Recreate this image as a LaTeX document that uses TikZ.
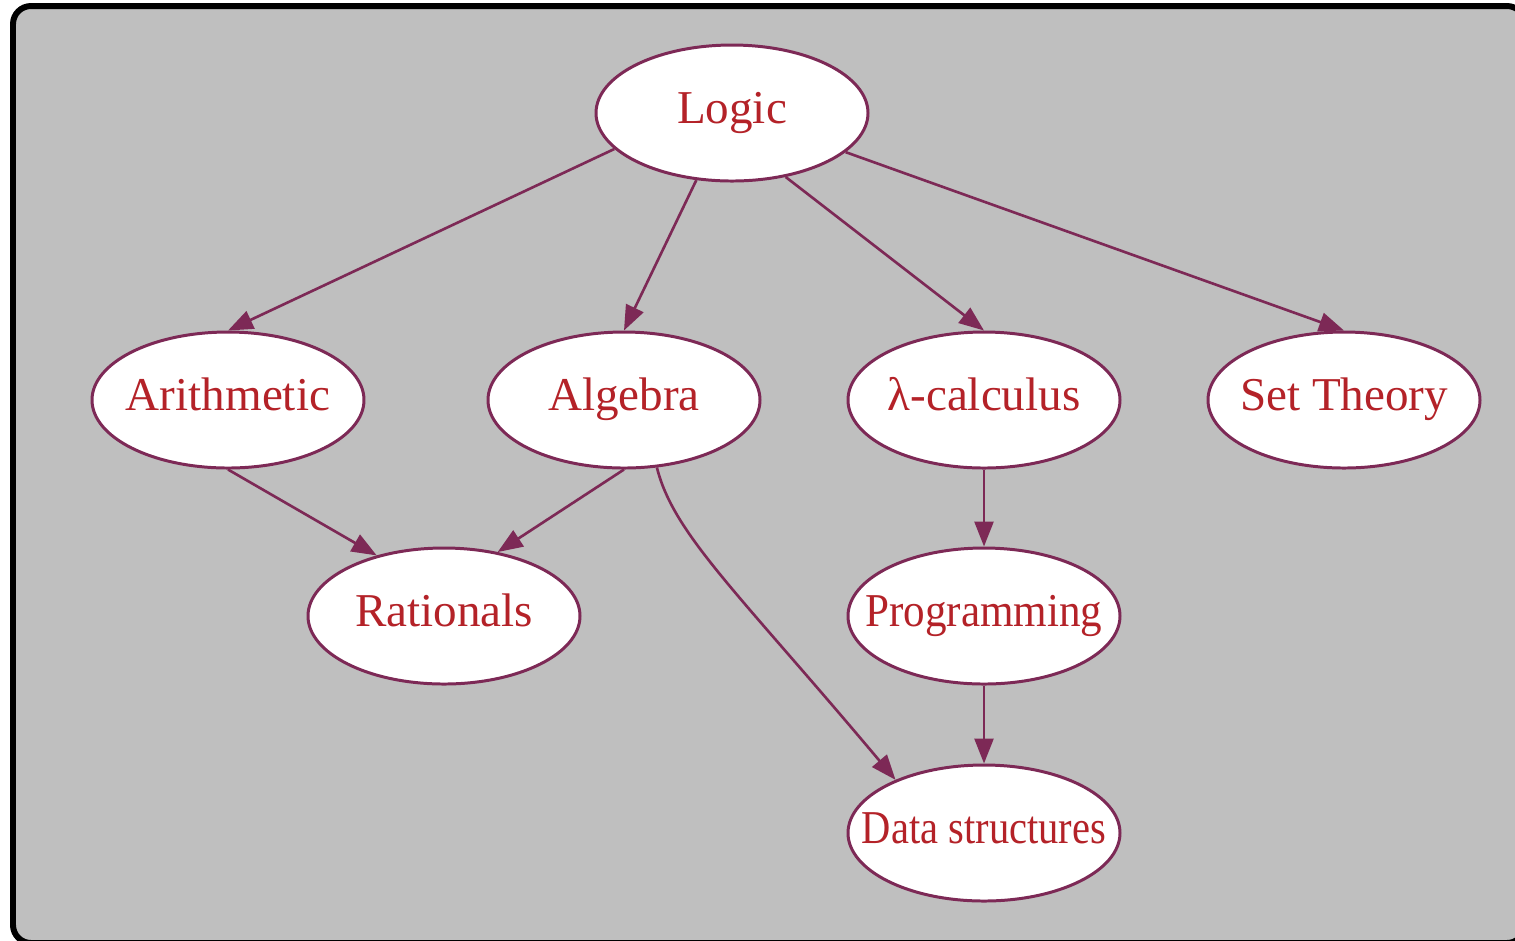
\documentclass[tikz,border=0pt]{standalone}
\usepackage{fontspec}
\setmainfont{Liberation Serif}
\usetikzlibrary{arrows.meta,shapes.geometric,positioning}
\definecolor{edgePurple}{RGB}{125,41,86}
\definecolor{labelRed}{RGB}{180,34,40}
\definecolor{bgGray}{RGB}{191,191,191}
% label box of zero width, so every ellipse keeps the same size
\newcommand{\topicLabel}[1]{\makebox[0pt][c]{#1}}
\tikzstyle{topicNode} = [ellipse, minimum width=2.72cm, minimum height=1.36cm, inner sep=0pt, text height=0.33cm, text depth=0.13cm, draw=edgePurple, line width=0.85pt, fill=white, text=labelRed, font=\fontsize{13.4}{16}\selectfont]
\tikzstyle{arrowP} = [line width=0.75pt, ->, >={Triangle[length=2.5mm,width=1.9mm]}, draw=edgePurple]

\begin{document}
\begin{tikzpicture}[node distance=2cm]
    \useasboundingbox (0,0) rectangle (15.15,-9.4);
    \draw [black, line width=1.7pt, fill=bgGray, rounded corners=0.18cm] (0.13,-0.06) rectangle (15.25,-9.43);

    \node (logic) [topicNode] at (7.32,-1.13) {\topicLabel{Logic}};
    \node (algebra) [topicNode, below of=logic, xshift=-1.08cm, yshift=-0.87cm] {\topicLabel{Algebra}};
    \node (arith) [topicNode, left of=algebra, xshift=-1.96cm] {\topicLabel{Arithmetic}};
    \node (lambda) [topicNode, right of=algebra, xshift=1.6cm] {\topicLabel{λ-calculus}};
    \node (settheory) [topicNode, right of=lambda, xshift=1.6cm] {\topicLabel{Set Theory}};
    \node (rationals) [topicNode, below of=arith, xshift=2.16cm, yshift=-0.16cm] {\topicLabel{Rationals}};
    \node (prog) [topicNode, below of=lambda, yshift=-0.16cm] {\topicLabel{\scalebox{0.915}[1]{Programming}}};
    \node (data) [topicNode, below of=prog, yshift=-0.17cm] {\topicLabel{\scalebox{0.86}[1]{Data structures}}};

    \draw [arrowP] (logic.-163) -- (arith.north);
    \draw [arrowP] (logic.-118) -- (algebra.north);
    \draw [arrowP] (logic.-50) -- (lambda.north);
    \draw [arrowP] (logic.-19) -- (settheory.north);

    \draw [arrowP] (arith.south) -- (rationals.138);
    \draw [arrowP] (algebra.south) -- (rationals.50);
    \draw [arrowP] (algebra.-64) to[out=-76, in=130, out looseness=0.45, in looseness=1.6] (data.149);

    \draw [arrowP] (lambda) -- (prog);
    \draw [arrowP] (prog) -- (data);
\end{tikzpicture}
\end{document}
